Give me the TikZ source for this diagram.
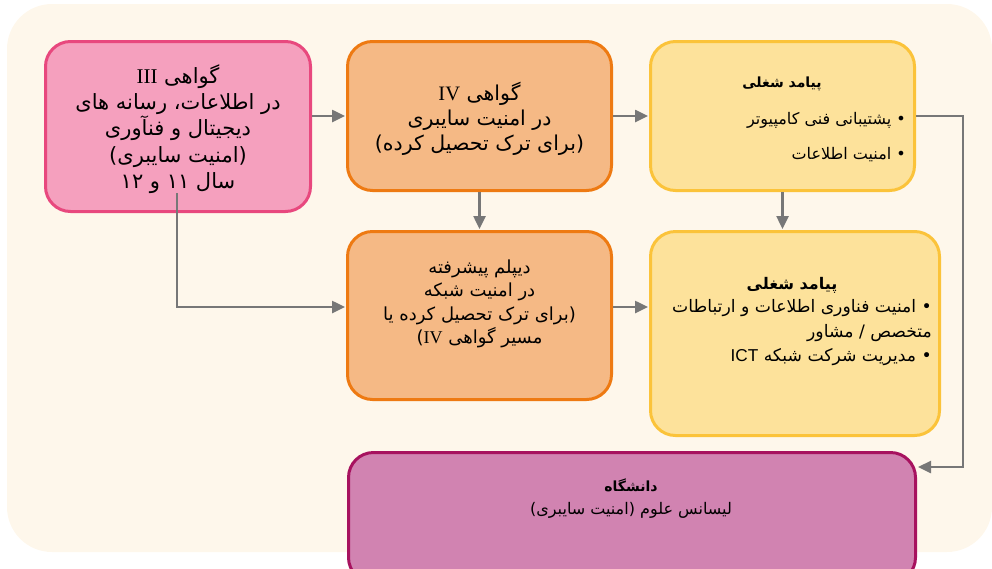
\documentclass[tikz,border=0pt]{standalone}
\usepackage{fontspec}
\usetikzlibrary{arrows.meta}
\TeXXeTstate=1
\newfontfamily\fa[Script=Arabic]{DejaVu Sans}
\newfontfamily\latserif{Liberation Serif}
\newfontfamily\latsans{Liberation Sans}
\newcommand\RL[1]{\beginR #1\endR}
\newcommand\LSer[1]{\beginL{\latserif #1}\endL{}}
\newcommand\LSan[1]{\beginL{\latsans #1}\endL{}}
\definecolor{bgc}{HTML}{FEF7EB}
\definecolor{pinkF}{HTML}{F5A0BE}
\definecolor{pinkD}{HTML}{E8487E}
\definecolor{oranF}{HTML}{F5B985}
\definecolor{oranD}{HTML}{EE7A12}
\definecolor{yelF}{HTML}{FDE29B}
\definecolor{yelD}{HTML}{FBC33A}
\definecolor{purF}{HTML}{D183B1}
\definecolor{purD}{HTML}{A7125F}
\definecolor{arrc}{HTML}{777777}
\tikzset{
  boxs/.style={rectangle, rounded corners=25pt, line width=3pt, inner sep=0pt},
  txt/.style={font=\fa, align=center, inner sep=0pt, text=black},
  arr/.style={draw=arrc, line width=2.5pt, -{Triangle[length=13pt,width=12pt]}, shorten >=1pt}
}
\begin{document}
\begin{tikzpicture}[x=1pt,y=-1pt]
\useasboundingbox (0,0) rectangle (992,568);
\clip (0,0) rectangle (992,568);
\fill[bgc, rounded corners=45pt] (7,4) rectangle (992,552);

\node[boxs, fill=pinkF, draw=pinkD, minimum width=265pt, minimum height=170pt] (pink) at (178,126.5) {};
\node[boxs, fill=oranF, draw=oranD, minimum width=264pt, minimum height=149pt] (otop) at (479.5,116) {};
\node[boxs, fill=yelF, draw=yelD, minimum width=264pt, minimum height=149pt] (ytop) at (782.5,116) {};
\node[boxs, fill=oranF, draw=oranD, minimum width=264pt, minimum height=168pt] (omid) at (479.5,315.5) {};
\node[boxs, fill=yelF, draw=yelD, minimum width=289pt, minimum height=204pt] (ymid) at (795,333.5) {};
\node[boxs, fill=purF, draw=purD, minimum width=567pt, minimum height=130pt] (univ) at (632,517.5) {};

\node[txt, font=\fa\fontsize{21}{26.3}\selectfont] (pinkT) at (178,129) {%
\RL{گواهی \LSer{III}}\\
\RL{در اطلاعات، رسانه های}\\
\RL{دیجیتال و فنآوری}\\
\RL{(امنیت سایبری)}\\
\RL{سال ۱۱ و ۱۲}};

\node[txt, font=\fa\fontsize{20.5}{25}\selectfont] (otopT) at (479.5,119) {%
\RL{گواهی \LSer{IV}}\\
\RL{در امنیت سایبری}\\
\RL{(برای ترک تحصیل کرده)}};

\node[txt, font=\fa\bfseries\fontsize{14}{17}\selectfont] (ytopH) at (782,84) {\RL{پیامد شغلی}};
\node[txt, align=right, anchor=east, font=\fa\fontsize{16}{35}\selectfont] (ytopL) at (906,137) {%
\RL{• پشتیبانی فنی کامپیوتر}\\
\RL{• امنیت اطلاعات}};

\node[txt, font=\fa\fontsize{18}{23.5}\selectfont] (omidT) at (479.5,304) {%
\RL{دیپلم پیشرفته}\\
\RL{در امنیت شبکه}\\
\RL{(برای ترک تحصیل کرده یا}\\
\RL{مسیر گواهی \LSer{IV})}};

\node[txt, font=\fa\bfseries\fontsize{16}{19}\selectfont] (ymidH) at (792,285) {\RL{پیامد شغلی}};
\node[txt, align=right, anchor=east, font=\fa\fontsize{17.2}{24.5}\selectfont] (ymidL) at (932,333) {%
\RL{• امنیت فناوری اطلاعات و ارتباطات}\\
\RL{متخصص / مشاور}\\
\RL{• مدیریت شرکت شبکه \LSan{ICT}}};

\node[txt, font=\fa\fontsize{16}{23}\selectfont] (univT) at (631,499) {%
\RL{\fontsize{14}{23}\selectfont\bfseries دانشگاه}\\
\RL{لیسانس علوم (امنیت سایبری)}};

\coordinate (m) at (630,307);
\coordinate (ps) at (177,193);
\coordinate (cr) at (963,467);
\draw[arr] (pink.east |- otop.west) -- (otop.west);
\draw[arr] (otop.east) -- (ytop.west);
\draw[arr] (otop.south) -- (omid.north);
\draw[arr] (ytop.south) -- (ytop.south |- ymid.north);
\draw[arr] (omid.east |- m) -- (ymid.west |- m);
\draw[arr] (ps) |- (omid.west |- m);
\draw[arr] (ytop.east) -| (cr) -- (univ.east |- cr);
\end{tikzpicture}
\end{document}
